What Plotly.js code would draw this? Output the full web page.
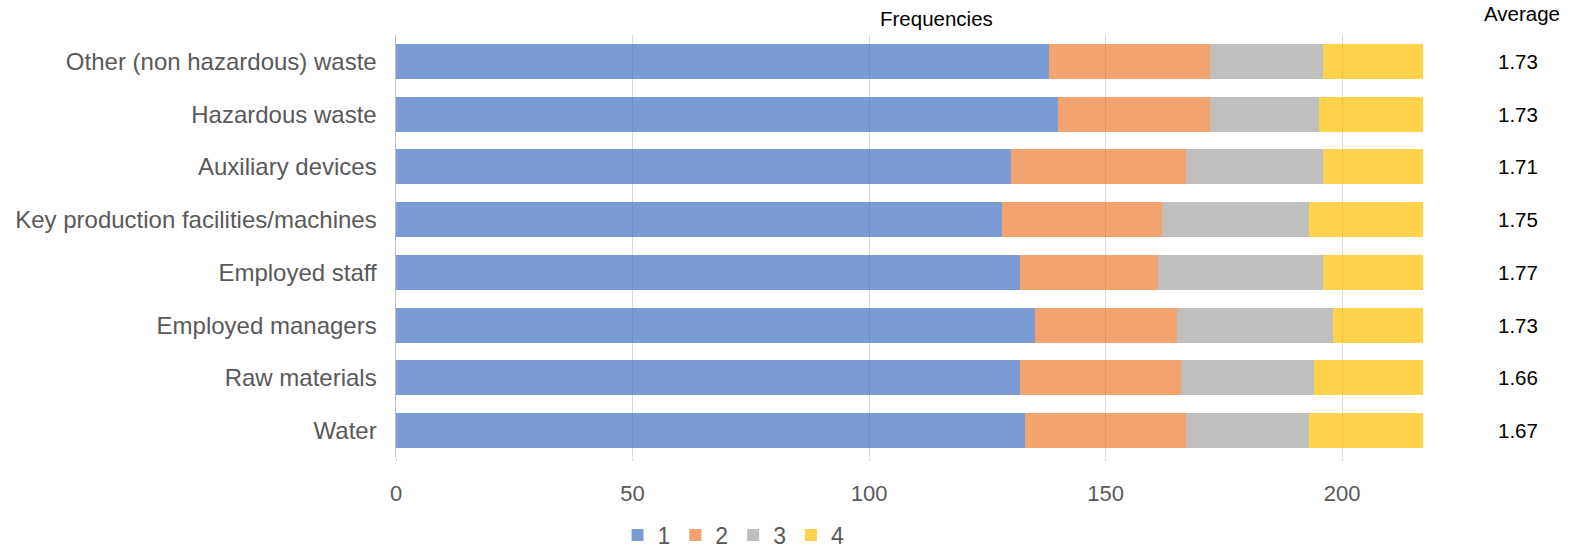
<!DOCTYPE html>
<html>
<head>
<meta charset="utf-8">
<script src="https://cdn.plot.ly/plotly-3.0.1.min.js"></script>
<style>
  html, body { margin: 0; padding: 0; background: #ffffff; }
  #chart { width: 1573px; height: 549px; }
</style>
</head>
<body>
<div id="chart"></div>
<script>
// Categories, listed from top to bottom
const categories = [
  "Other (non hazardous) waste",
  "Hazardous waste",
  "Auxiliary devices",
  "Key production facilities/machines",
  "Employed staff",
  "Employed managers",
  "Raw materials",
  "Water"
];

// Frequencies of answers 1..4 for each category
const freq1 = [138, 140, 130, 128, 132, 135, 132, 133];
const freq2 = [34, 32, 37, 34, 29, 30, 34, 34];
const freq3 = [24, 23, 29, 31, 35, 33, 28, 26];
const freq4 = [21, 22, 21, 24, 21, 19, 23, 24];

// Average score per category
const averages = ["1.73", "1.73", "1.71", "1.75", "1.77", "1.73", "1.66", "1.67"];

const seriesNames = ["1", "2", "3", "4"];
const seriesColors = ["#4472C4", "#ED7D31", "#A5A5A5", "#FFC000"];
const seriesValues = [freq1, freq2, freq3, freq4];

const FONT = "Liberation Sans, Arial, sans-serif";

const traces = seriesValues.map((vals, i) => ({
  type: "bar",
  orientation: "h",
  name: seriesNames[i],
  x: vals,
  y: categories,
  marker: { color: seriesColors[i], line: { width: 0 } },
  opacity: 0.7,
  hoverinfo: "x+y+name"
}));

const annotations = [
  {
    text: "Frequencies", xref: "paper", yref: "paper",
    x: 0.526, y: 1.038, showarrow: false,
    xanchor: "center", yanchor: "middle",
    font: { family: FONT, size: 20.5, color: "#000000" }
  },
  {
    text: "Average", xref: "paper", yref: "paper",
    x: 1.095, y: 1.05, showarrow: false,
    xanchor: "center", yanchor: "middle",
    font: { family: FONT, size: 20.5, color: "#000000" }
  }
].concat(categories.map((c, i) => ({
  text: averages[i], xref: "paper", yref: "y",
  x: 1.0915, y: c, showarrow: false,
  xanchor: "center", yanchor: "middle",
  font: { family: FONT, size: 20.5, color: "#000000" }
})));

const layout = {
  width: 1573,
  height: 549,
  margin: { l: 396, r: 149, t: 35, b: 92, pad: 0, autoexpand: false },
  paper_bgcolor: "#ffffff",
  plot_bgcolor: "#ffffff",
  barmode: "stack",
  bargap: 0.335,
  showlegend: true,
  legend: {
    orientation: "h",
    x: 0.2155, xanchor: "left",
    y: -0.185, yanchor: "middle",
    font: { family: FONT, size: 23, color: "#595959" },
    traceorder: "normal"
  },
  xaxis: {
    range: [0, 217.3],
    tickvals: [0, 50, 100, 150, 200],
    showgrid: true,
    gridcolor: "#D9D9D9",
    gridwidth: 1,
    zeroline: false,
    showline: false,
    ticks: "outside",
    ticklen: 3,
    tickcolor: "#D9D9D9",
    ticklabelstandoff: 14,
    tickfont: { family: FONT, size: 22, color: "#595959" },
    fixedrange: true
  },
  yaxis: {
    type: "category",
    autorange: "reversed",
    showgrid: false,
    zeroline: false,
    showline: true,
    linecolor: "#BFBFBF",
    linewidth: 1.5,
    ticks: "",
    ticklabelstandoff: 13,
    tickfont: { family: FONT, size: 24, color: "#595959" },
    fixedrange: true
  },
  annotations: annotations
};

Plotly.newPlot("chart", traces, layout, { displayModeBar: false, staticPlot: true });
</script>
</body>
</html>
